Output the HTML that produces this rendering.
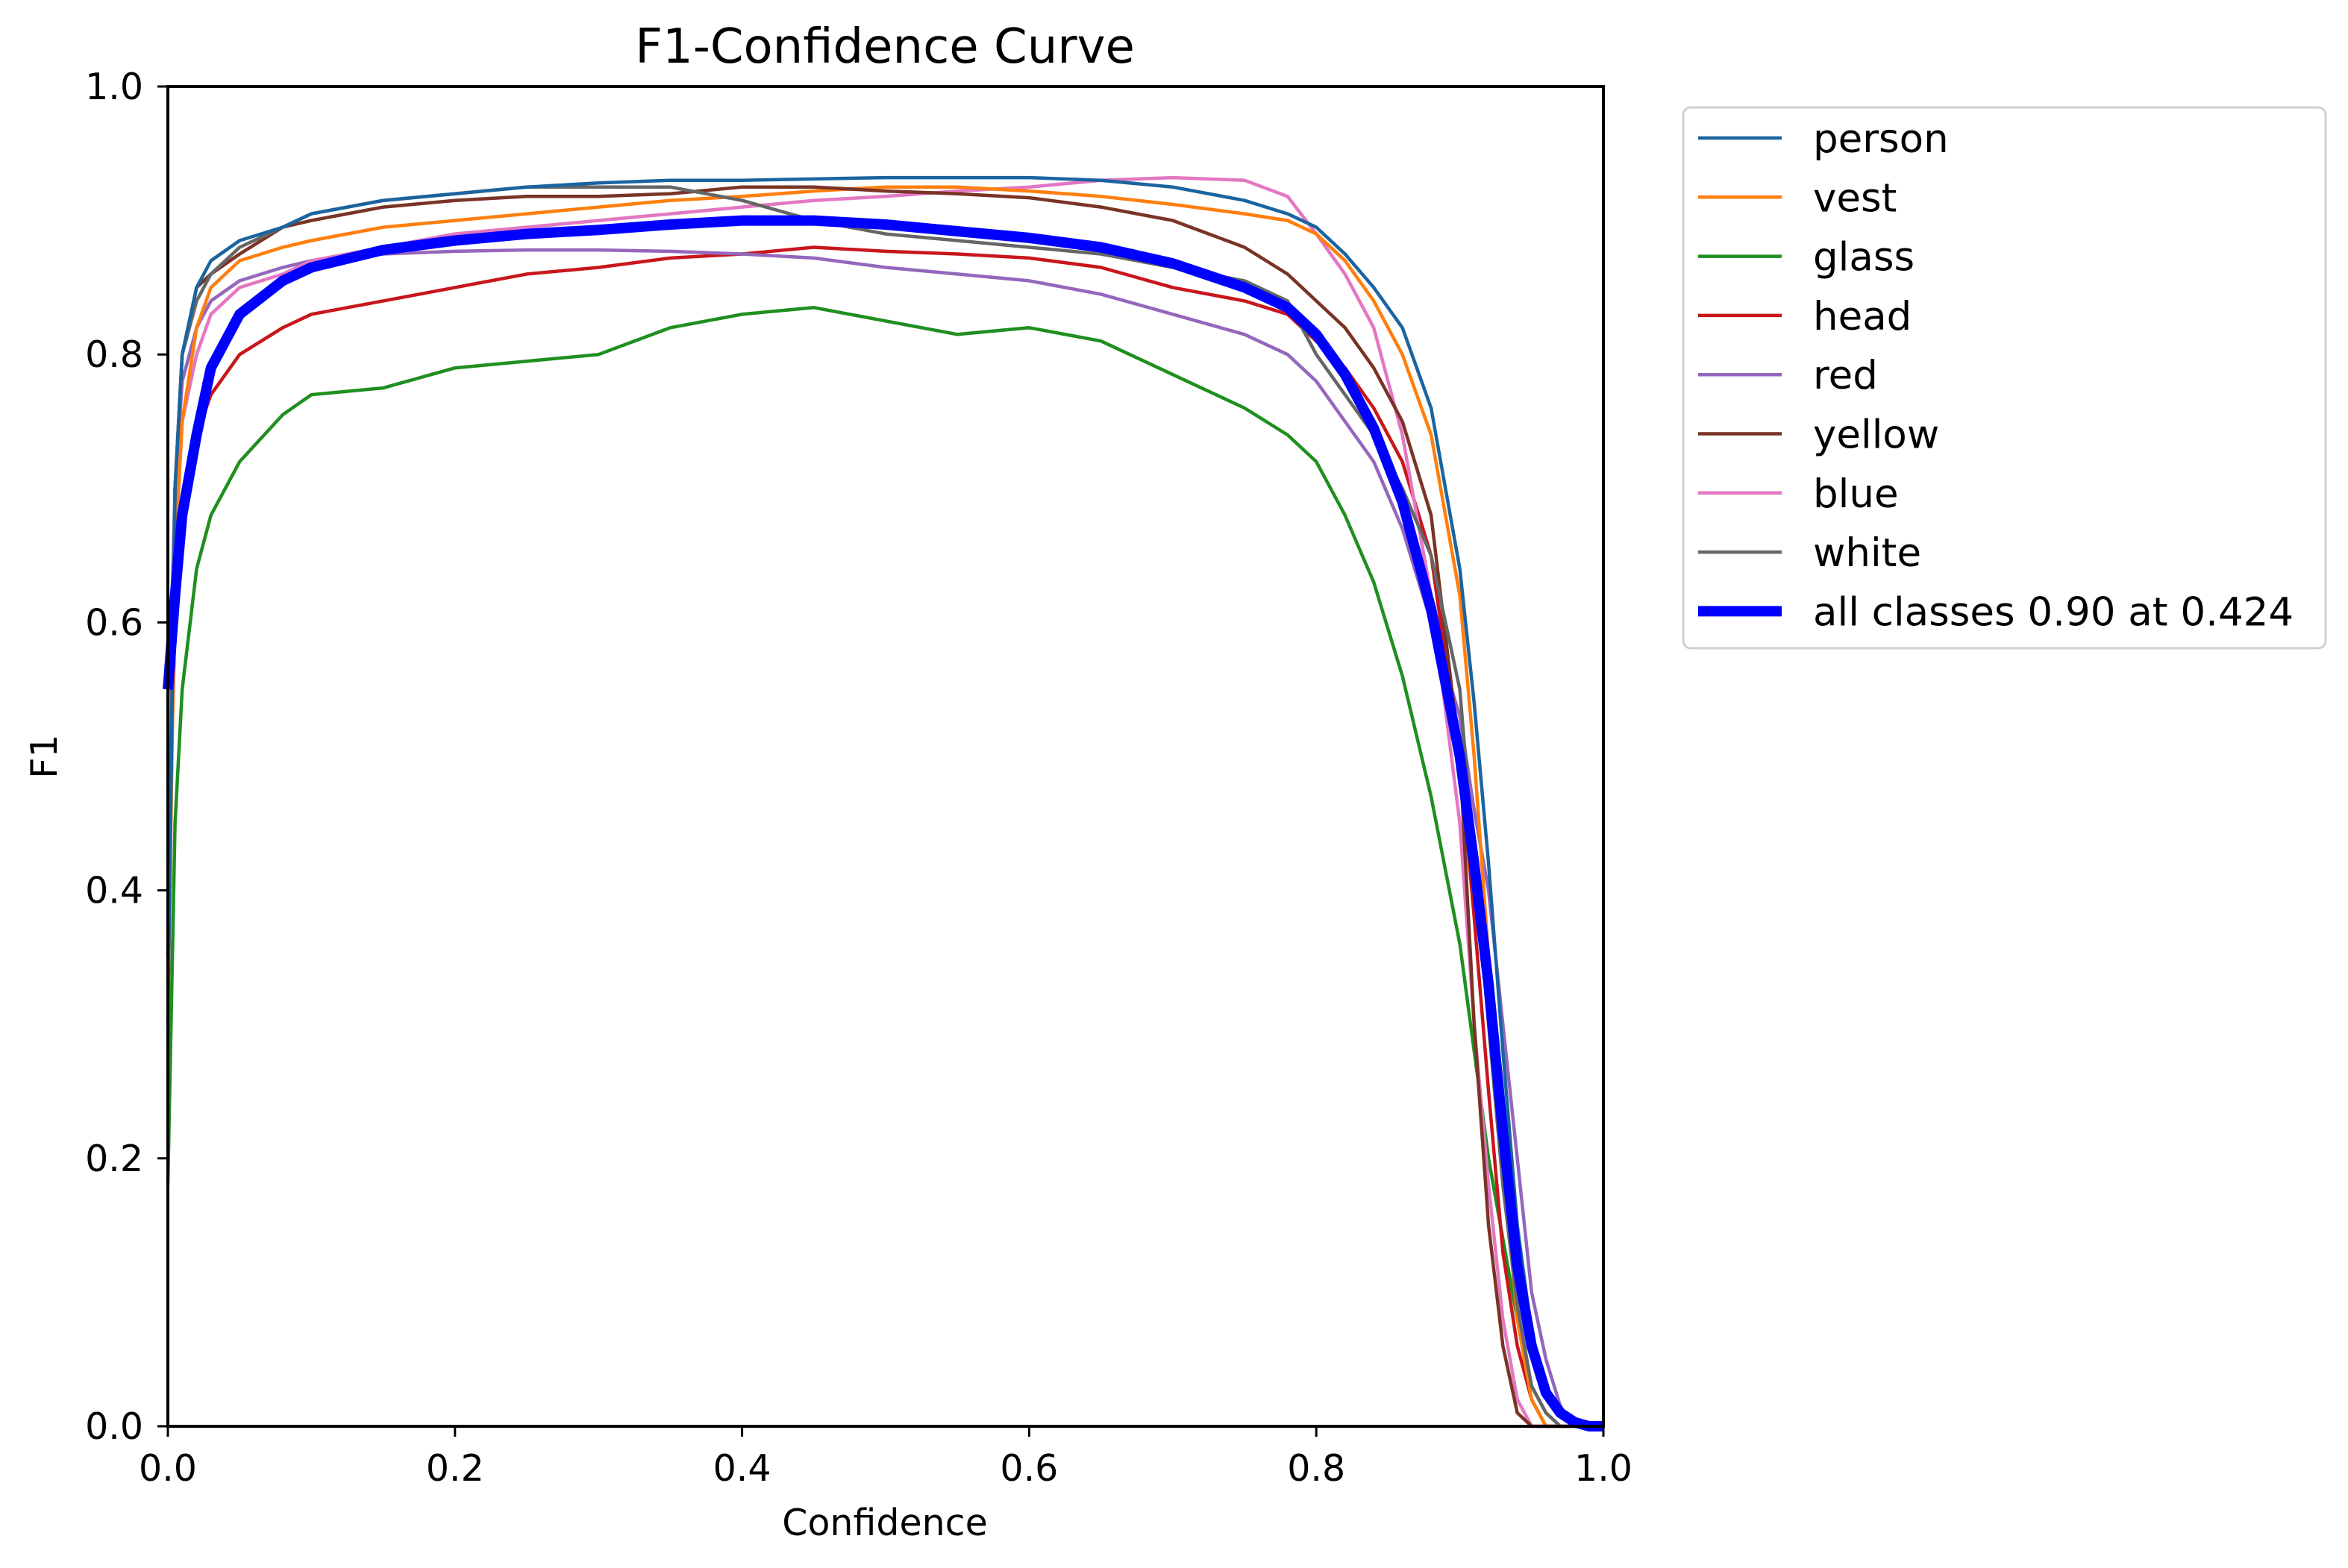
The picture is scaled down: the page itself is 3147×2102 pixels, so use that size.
<!DOCTYPE html>
<html><head><meta charset="utf-8"><style>
body{margin:0;background:#fff;}
svg text{font-family:"DejaVu Sans","Liberation Sans",sans-serif;fill:#000;}
</style></head><body>
<svg id="chart" width="3147" height="2097" viewBox="0 0 3147 2097" xmlns="http://www.w3.org/2000/svg">
<rect width="3147" height="2097" fill="#fff"/>
<g id="series"></g>
<g id="axes"></g>
<g id="legend"></g>
</svg>
<script>
const conf = [0,0.005,0.01,0.02,0.03,0.05,0.08,0.1,0.15,0.2,0.25,0.3,0.35,0.4,0.45,0.5,0.55,0.6,0.65,0.7,0.75,0.78,0.8,0.82,0.84,0.86,0.88,0.9,0.91,0.92,0.93,0.94,0.95,0.96,0.97,0.98,0.99,1.0];
const personF1 = [0.3,0.7,0.8,0.85,0.87,0.885,0.895,0.905,0.915,0.92,0.925,0.928,0.93,0.93,0.931,0.932,0.932,0.932,0.93,0.925,0.915,0.905,0.895,0.875,0.85,0.82,0.76,0.64,0.54,0.42,0.28,0.15,0.07,0.03,0.01,0];
const vestF1 = [0.3,0.65,0.75,0.82,0.85,0.87,0.88,0.885,0.895,0.9,0.905,0.91,0.915,0.918,0.922,0.925,0.925,0.922,0.918,0.912,0.905,0.9,0.89,0.87,0.84,0.8,0.74,0.62,0.5,0.35,0.2,0.08,0.02,0];
const glassF1 = [0.18,0.45,0.55,0.64,0.68,0.72,0.755,0.77,0.775,0.79,0.795,0.8,0.82,0.83,0.835,0.825,0.815,0.82,0.81,0.785,0.76,0.74,0.72,0.68,0.63,0.56,0.47,0.36,0.28,0.2,0.14,0.08,0.03,0.01,0];
const headF1 = [0.4,0.6,0.68,0.74,0.77,0.8,0.82,0.83,0.84,0.85,0.86,0.865,0.872,0.875,0.88,0.877,0.875,0.872,0.865,0.85,0.84,0.83,0.81,0.79,0.76,0.72,0.65,0.5,0.38,0.25,0.13,0.06,0.02,0];
const redF1 = [0.5,0.7,0.78,0.82,0.84,0.855,0.865,0.87,0.875,0.877,0.878,0.878,0.877,0.875,0.872,0.865,0.86,0.855,0.845,0.83,0.815,0.8,0.78,0.75,0.72,0.67,0.6,0.53,0.46,0.4,0.3,0.2,0.1,0.05,0.015,0];
const yellowF1 = [0.35,0.7,0.8,0.85,0.86,0.875,0.895,0.9,0.91,0.915,0.918,0.918,0.92,0.925,0.925,0.922,0.92,0.917,0.91,0.9,0.88,0.86,0.84,0.82,0.79,0.75,0.68,0.5,0.3,0.15,0.06,0.01,0];
const blueF1 = [0.5,0.65,0.75,0.8,0.83,0.85,0.86,0.87,0.88,0.89,0.895,0.9,0.905,0.91,0.915,0.918,0.922,0.925,0.93,0.932,0.93,0.918,0.89,0.86,0.82,0.74,0.62,0.45,0.3,0.18,0.08,0.02,0];
const whiteF1 = [0.35,0.7,0.8,0.84,0.86,0.88,0.895,0.905,0.915,0.92,0.925,0.925,0.925,0.915,0.9,0.89,0.885,0.88,0.875,0.865,0.855,0.84,0.8,0.77,0.74,0.7,0.65,0.55,0.42,0.3,0.18,0.09,0.03,0.01,0];
const allF1 = [0.55,0.62,0.68,0.74,0.79,0.83,0.855,0.865,0.878,0.885,0.89,0.893,0.897,0.9,0.9,0.897,0.892,0.887,0.88,0.868,0.85,0.835,0.815,0.785,0.745,0.69,0.61,0.5,0.42,0.33,0.22,0.12,0.06,0.025,0.01,0.003,0,0];
const seriesNames = ["person","vest","glass","head","red","yellow","blue","white","all classes 0.90 at 0.424"];
const xTicks = [0,0.2,0.4,0.6,0.8,1.0];
const yTicks = [0,0.2,0.4,0.6,0.8,1.0];

const X0=225,X1=2149,Y0=1912,Y1=116;
const sx=v=>X0+v*(X1-X0);
const sy=v=>Y0-v*(Y0-Y1);
const NS="http://www.w3.org/2000/svg";
function mk(t,p){const e=document.createElementNS(NS,t);for(const k in p)e.setAttribute(k,p[k]);return e;}

const seriesData=[personF1,vestF1,glassF1,headF1,redF1,yellowF1,blueF1,whiteF1,allF1];
const colors=["#1a64a0","#ff7f0e","#1f8f1f","#c8161c","#9467bd","#7a3325","#e377c2","#666666","#0000ff"];
const widths=[4.5,4.5,4.5,4.5,4.5,4.5,4.5,4.5,14];
const sg=document.getElementById("series");
const order=[2,3,4,6,1,5,7,0,8];
order.forEach(i=>{
  const pts=conf.map((c,j)=>sx(c).toFixed(1)+","+sy(seriesData[i][j]||0).toFixed(1)).join(" ");
  const pl=mk("polyline",{points:pts,fill:"none",stroke:colors[i],"stroke-width":widths[i],"stroke-linejoin":"round"});
  
  
  sg.appendChild(pl);
});

const ag=document.getElementById("axes");
const frame=mk("rect",{x:X0,y:Y1,width:X1-X0,height:Y0-Y1,fill:"none",stroke:"#000","stroke-width":4});


ag.appendChild(frame);
xTicks.forEach(t=>{
  const l=mk("line",{x1:sx(t),x2:sx(t),y1:Y0,y2:Y0+14,stroke:"#000","stroke-width":3});
  
  
  ag.appendChild(l);
  const tx=mk("text",{x:sx(t),y:1985,"font-size":49,"text-anchor":"middle"});
  tx.textContent=t.toFixed(1);
  
  
  ag.appendChild(tx);
});
yTicks.forEach(t=>{
  const l=mk("line",{x1:X0-14,x2:X0,y1:sy(t),y2:sy(t),stroke:"#000","stroke-width":3});
  
  
  ag.appendChild(l);
  const tx=mk("text",{x:192,y:sy(t)+17,"font-size":49,"text-anchor":"end"});
  tx.textContent=t.toFixed(1);
  
  
  ag.appendChild(tx);
});
const title=mk("text",{x:1186,y:84,"font-size":64,"text-anchor":"middle"});
title.textContent="F1-Confidence Curve";


ag.appendChild(title);
const xl=mk("text",{x:1186,y:2058,"font-size":49,"text-anchor":"middle"});
xl.textContent="Confidence";


ag.appendChild(xl);
const yl=mk("text",{x:76,y:1014,"font-size":49,"text-anchor":"middle",transform:"rotate(-90 76 1014)"});
yl.textContent="F1";


ag.appendChild(yl);

const lg=document.getElementById("legend");
const box=mk("rect",{x:2256,y:144,width:861,height:725,rx:10,fill:"#fff",stroke:"#d0d0d0","stroke-width":3});


lg.appendChild(box);
seriesNames.forEach((n,i)=>{
  const y=185+i*79.3;
  const l=mk("line",{x1:2276,x2:2388,y1:y,y2:y,stroke:colors[i],"stroke-width":i==8?14:4.5});
  
  
  lg.appendChild(l);
  const t=mk("text",{x:2430,y:y+19,"font-size":53});
  t.textContent=n;
  
  
  lg.appendChild(t);
});
</script>
</body></html>
